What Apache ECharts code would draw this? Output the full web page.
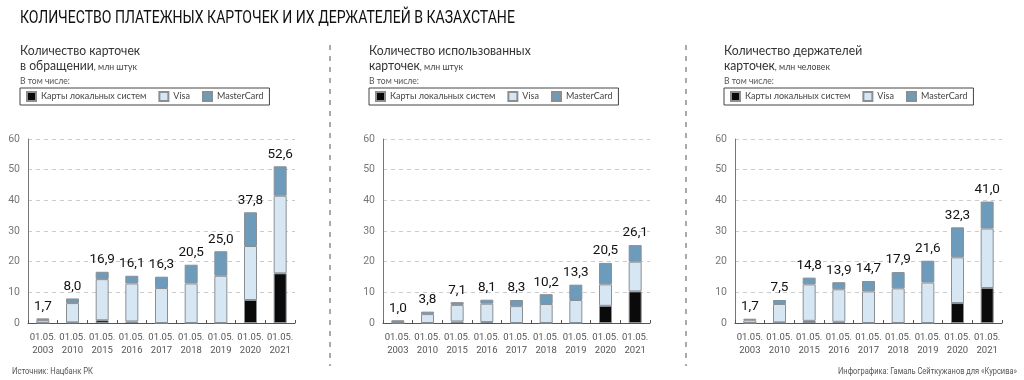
<!DOCTYPE html>
<html>
<head>
<meta charset="utf-8">
<script src="https://cdn.jsdelivr.net/npm/echarts@6/dist/echarts.min.js"></script>
<style>
  html, body { margin: 0; padding: 0; background: #fff; }
  #chart { width: 1024px; height: 380px; }
</style>
</head>
<body>
<div id="chart"></div>
<script>
// даты
const categories = ['01.05.\n2003', '01.05.\n2010', '01.05.\n2015', '01.05.\n2016', '01.05.\n2017', '01.05.\n2018', '01.05.\n2019', '01.05.\n2020', '01.05.\n2021']

// карточки в обращении
const inUseLocal = [0.1, 0.2, 0.9, 0.5, 0, 0, 0, 7.5, 16.2]
const inUseVisa = [0.9, 6.3, 13.4, 12.4, 11.4, 12.9, 15.4, 17.6, 25.3]
const inUseMc = [0.5, 1.5, 2.4, 2.5, 3.7, 6.1, 8.0, 11.0, 9.6]
const inUseTotals = ['1,7', '8,0', '16,9', '16,1', '16,3', '20,5', '25,0', '37,8', '52,6']

// использованные карточки
const usedLocal = [0, 0, 0.5, 0.3, 0, 0, 0, 5.6, 10.3]
const usedVisa = [0.3, 2.9, 5.4, 6.0, 5.5, 6.2, 7.5, 7.0, 9.7]
const usedMc = [0.6, 0.8, 0.9, 1.3, 2.0, 3.2, 5.0, 7.0, 5.4]
const usedTotals = ['1,0', '3,8', '7,1', '8,1', '8,3', '10,2', '13,3', '20,5', '26,1']

// держатели карточек
const holdersLocal = [0, 0.2, 0.7, 0.4, 0, 0, 0, 6.5, 11.4]
const holdersVisa = [0.9, 6.0, 11.9, 10.6, 10.3, 11.3, 13.2, 14.9, 19.4]
const holdersMc = [0.5, 1.3, 2.2, 2.3, 3.4, 5.3, 7.1, 9.8, 8.8]
const holdersTotals = ['1,7', '7,5', '14,8', '13,9', '14,7', '17,9', '21,6', '32,3', '41,0']

const yTicks = { min: 0, max: 60, interval: 10 }

const names = ['Карты локальных систем', 'Visa', 'MasterCard']
const colors = {
  local: '#0a0a0a',
  visa: '#d7e6f3',
  mc: '#6d9bbb'
}

const panels = [
  { left: 28, x: 20, title1: 'Количество карточек', title2: 'в обращении', unit: ', млн штук', data: [inUseLocal, inUseVisa, inUseMc], totals: inUseTotals },
  { left: 383, x: 369, title1: 'Количество использованных', title2: 'карточек', unit: ', млн штук', data: [usedLocal, usedVisa, usedMc], totals: usedTotals },
  { left: 735, x: 724, title1: 'Количество держателей', title2: 'карточек', unit: ', млн человек', data: [holdersLocal, holdersVisa, holdersMc], totals: holdersTotals }
]

const narrow = 'Roboto, "Liberation Sans", sans-serif'
const round = 'Lato, "Noto Sans", sans-serif'

// текст со сжатием по горизонтали
function txt(x, y, style, sx) {
  return { type: 'text', x: x, y: y, scaleX: sx || 1, style: Object.assign({ verticalAlign: 'top' }, style) }
}

const chart = echarts.init(document.getElementById('chart'), null, { renderer: 'canvas' })

const option = {
  backgroundColor: '#fff',
  animation: false,
  grid: [],
  xAxis: [],
  yAxis: [],
  legend: [],
  series: [],
  graphic: []
}

panels.forEach((p, i) => {
  option.grid.push({ left: p.left, width: 267, top: 139, bottom: 57 })
  option.xAxis.push({
    type: 'category',
    gridIndex: i,
    data: categories,
    axisLine: { lineStyle: { color: '#555', width: 1 } },
    axisTick: { show: true, inside: true, length: 3, interval: 0, lineStyle: { color: '#555' } },
    axisLabel: { interval: 0, color: '#555', fontFamily: narrow, fontSize: 9.5, lineHeight: 13, margin: 8 }
  })
  option.yAxis.push({
    type: 'value',
    gridIndex: i,
    min: yTicks.min,
    max: yTicks.max,
    interval: yTicks.interval,
    axisLine: { show: true, lineStyle: { color: '#777' } },
    axisTick: { show: false },
    axisLabel: { color: '#777', fontFamily: narrow, fontSize: 10.5, margin: 8 },
    splitLine: { lineStyle: { color: '#ccc', type: [4, 4] } }
  })
  option.legend.push({
    data: names,
    left: p.x,
    top: 88,
    width: 330,
    orient: 'horizontal',
    borderColor: '#444',
    borderWidth: 1,
    borderRadius: 0,
    padding: [3, 6, 3, 6],
    itemWidth: 9,
    itemHeight: 9,
    itemGap: 12,
    icon: 'rect',
    selectedMode: false,
    textStyle: { fontFamily: round, fontSize: 9, color: '#444' }
  })
  const keys = ['local', 'visa', 'mc']
  p.data.forEach((vals, k) => {
    const s = {
      name: names[k],
      type: 'bar',
      stack: 'p' + i,
      xAxisIndex: i,
      yAxisIndex: i,
      barWidth: 13,
      data: vals,
      itemStyle: { color: colors[keys[k]], borderColor: '#8a8f94', borderWidth: 1 }
    }
    if (k === 2) {
      s.label = {
        show: true,
        position: 'top',
        distance: 5,
        color: '#111',
        fontFamily: narrow,
        fontSize: 13.5,
        formatter: params => p.totals[params.dataIndex]
      }
    }
    option.series.push(s)
  })
  // подзаголовки
  option.graphic.push(txt(p.x, 43, { text: p.title1, font: '14px ' + round, fill: '#333' }, 0.87))
  option.graphic.push(txt(p.x, 58, {
    text: '{a|' + p.title2 + '}{b|' + p.unit + '}',
    rich: {
      a: { fontFamily: round, fontSize: 14, fill: '#333', verticalAlign: 'bottom' },
      b: { fontFamily: round, fontSize: 10, fill: '#444', verticalAlign: 'bottom' }
    }
  }, 0.87))
  option.graphic.push(txt(p.x, 76, { text: 'В том числе:', font: '9.5px ' + round, fill: '#555' }, 0.9))
})

// заголовок
option.graphic.push(txt(20, 9, { text: 'КОЛИЧЕСТВО ПЛАТЕЖНЫХ КАРТОЧЕК И ИХ ДЕРЖАТЕЛЕЙ В КАЗАХСТАНЕ', font: '19px ' + narrow, fill: '#111' }, 0.74))
// разделители
;[330, 686].forEach(x => {
  option.graphic.push({
    type: 'line',
    shape: { x1: x, y1: 45, x2: x, y2: 366 },
    style: { stroke: '#555', lineWidth: 1, lineDash: [5, 6] }
  })
})
// подвал
option.graphic.push(txt(12, 367, { text: 'Источник: Нацбанк РК', font: '9px ' + narrow, fill: '#555' }, 0.85))
option.graphic.push(txt(1017, 367, { text: 'Инфографика: Гамаль Сейткужанов для «Курсива»', font: '9px ' + narrow, fill: '#555', align: 'right' }, 0.83))

chart.setOption(option)
</script>
</body>
</html>
